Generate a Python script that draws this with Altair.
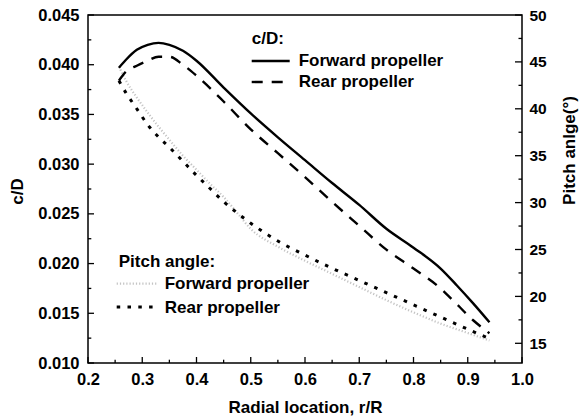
import altair as alt
import pandas as pd

# ---------------- data ----------------
r_cd = [0.257, 0.27, 0.29, 0.31, 0.33, 0.35, 0.375, 0.40, 0.45, 0.50, 0.55,
        0.60, 0.65, 0.70, 0.75, 0.80, 0.85, 0.88, 0.91, 0.94]
forward_cd = [0.0397, 0.0405, 0.0415, 0.0420, 0.0422, 0.0420, 0.0414, 0.0404,
              0.0377, 0.0351, 0.0327, 0.0304, 0.0281, 0.0259, 0.0235, 0.0216,
              0.0195, 0.0178, 0.0160, 0.0141]
rear_cd = [0.0384, 0.0393, 0.0399, 0.0404, 0.0408, 0.0408, 0.0400, 0.0389,
           0.0363, 0.0335, 0.0311, 0.0287, 0.0262, 0.0238, 0.0214, 0.0195,
           0.0175, 0.0159, 0.0143, 0.0130]

r_pitch = [0.257, 0.27, 0.29, 0.31, 0.33, 0.35, 0.375, 0.40, 0.425, 0.45,
           0.475, 0.50, 0.55, 0.60, 0.65, 0.70, 0.75, 0.80, 0.85, 0.90, 0.94]
forward_pitch = [44.5, 43.0, 41.2, 39.6, 38.1, 36.7, 35.0, 33.5, 32.0, 30.6,
                 28.9, 27.2, 25.3, 23.8, 22.4, 21.0, 19.6, 18.3, 17.1, 16.1, 15.3]
rear_pitch = [43.0, 41.7, 40.0, 38.3, 37.0, 35.9, 34.4, 32.9, 31.5, 30.1,
              28.9, 27.8, 25.9, 24.4, 23.0, 21.7, 20.4, 19.1, 17.8, 16.5, 15.5]

x_major = [0.2, 0.3, 0.4, 0.5, 0.6, 0.7, 0.8, 0.9, 1.0]
x_minor = [0.25, 0.35, 0.45, 0.55, 0.65, 0.75, 0.85, 0.95]
cd_major = [0.010, 0.015, 0.020, 0.025, 0.030, 0.035, 0.040, 0.045]
cd_minor = [0.0125, 0.0175, 0.0225, 0.0275, 0.0325, 0.0375, 0.0425]
pitch_major = [15, 20, 25, 30, 35, 40, 45, 50]
pitch_minor = [17.5, 22.5, 27.5, 32.5, 37.5, 42.5, 47.5]

# ---------------- styling ----------------
FONT = "Liberation Sans"
W, H = 434, 348

x_scale = alt.Scale(domain=[0.2, 1.0], nice=False, zero=False)
cd_scale = alt.Scale(domain=[0.010, 0.045], nice=False, zero=False)
pitch_scale = alt.Scale(domain=[12.9, 50], nice=False, zero=False)

x_axis = alt.Axis(values=x_major, format=".1f", title="Radial location, r/R",
                  orient="bottom", ticks=False, tickSize=0, domain=False, grid=False,
                  labelFont=FONT, labelFontSize=16.5, labelFontWeight="bold",
                  labelColor="black", labelPadding=8, labelFlush=False,
                  labelOverlap=False,
                  titleFont=FONT, titleFontSize=17, titleFontWeight="bold",
                  titleColor="black", titleX=W / 2, titleY=49,
                  titleBaseline="alphabetic")
cd_axis = alt.Axis(values=cd_major, format=".3f", title="c/D", orient="left",
                   ticks=False, tickSize=0, domain=False, grid=False,
                   labelFont=FONT, labelFontSize=16.5, labelFontWeight="bold",
                   labelColor="black", labelPadding=9, labelFlush=False,
                   labelOverlap=False,
                   titleFont=FONT, titleFontSize=17, titleFontWeight="bold",
                   titleColor="black", titleX=-71, titleY=176,
                   titleAngle=270, titleBaseline="middle")
pitch_axis = alt.Axis(values=pitch_major, format="d", title="Pitch anlge(°)",
                      orient="right", ticks=False, tickSize=0, domain=False,
                      grid=False,
                      labelFont=FONT, labelFontSize=15.5, labelFontWeight="bold",
                      labelColor="black", labelPadding=7, labelFlush=False,
                      labelOverlap=False,
                      titleFont=FONT, titleFontSize=17, titleFontWeight="bold",
                      titleColor="black", titleX=47, titleY=135,
                      titleAngle=270, titleBaseline="middle")

X = alt.X("r:Q", scale=x_scale, axis=x_axis)

cd_df = pd.DataFrame({"r": r_cd, "forward": forward_cd, "rear": rear_cd})
pitch_df = pd.DataFrame({"r": r_pitch, "forward": forward_pitch, "rear": rear_pitch})

# ---------------- pitch group (right axis) ----------------
fwd_pitch_line = alt.Chart(pitch_df).mark_line(
    color="#c4c4c4", strokeWidth=2.2, strokeDash=[1.2, 2.0], interpolate="monotone"
).encode(x=X, y=alt.Y("forward:Q", scale=pitch_scale, axis=pitch_axis))

rear_pitch_line = alt.Chart(pitch_df).mark_line(
    color="black", strokeWidth=3, strokeDash=[3.5, 7.3], interpolate="monotone"
).encode(x=X, y=alt.Y("rear:Q", scale=pitch_scale, axis=pitch_axis))

pitch_major_ticks = alt.Chart(pd.DataFrame({"v": pitch_major})).mark_rule(
    color="black", strokeWidth=1.3
).encode(y=alt.Y("v:Q", scale=pitch_scale, axis=pitch_axis),
         x=alt.value(W - 7), x2=alt.value(W))
pitch_minor_ticks = alt.Chart(pd.DataFrame({"v": pitch_minor})).mark_rule(
    color="black", strokeWidth=1.3
).encode(y=alt.Y("v:Q", scale=pitch_scale, axis=pitch_axis),
         x=alt.value(W - 3.5), x2=alt.value(W))

pitch_group = alt.layer(fwd_pitch_line, rear_pitch_line,
                        pitch_major_ticks, pitch_minor_ticks)

# ---------------- c/D group (left axis) ----------------
fwd_cd_line = alt.Chart(cd_df).mark_line(
    color="black", strokeWidth=2.4, interpolate="monotone"
).encode(x=X, y=alt.Y("forward:Q", scale=cd_scale, axis=cd_axis))

rear_cd_line = alt.Chart(cd_df).mark_line(
    color="black", strokeWidth=2.4, strokeDash=[11, 9], interpolate="monotone"
).encode(x=X, y=alt.Y("rear:Q", scale=cd_scale, axis=cd_axis))

cd_major_ticks = alt.Chart(pd.DataFrame({"v": cd_major})).mark_rule(
    color="black", strokeWidth=1.3
).encode(y=alt.Y("v:Q", scale=cd_scale, axis=cd_axis),
         x=alt.value(0), x2=alt.value(6))
cd_minor_ticks = alt.Chart(pd.DataFrame({"v": cd_minor})).mark_rule(
    color="black", strokeWidth=1.3
).encode(y=alt.Y("v:Q", scale=cd_scale, axis=cd_axis),
         x=alt.value(0), x2=alt.value(3.3))

x_major_ticks = alt.Chart(pd.DataFrame({"r": x_major})).mark_rule(
    color="black", strokeWidth=1.3
).encode(x=X, y=alt.value(H - 6), y2=alt.value(H))
x_minor_ticks = alt.Chart(pd.DataFrame({"r": x_minor})).mark_rule(
    color="black", strokeWidth=1.3
).encode(x=X, y=alt.value(H - 3.3), y2=alt.value(H))

# ---------------- legends ----------------
OX, OY = 88.3, 14.7
one = pd.DataFrame({"k": [0]})


def legend_text(label, x, y):
    return alt.Chart(pd.DataFrame({"t": [label]})).mark_text(
        font=FONT, fontSize=17, fontWeight="bold", color="black",
        align="left", baseline="alphabetic"
    ).encode(text="t:N", x=alt.value(x - OX), y=alt.value(y - OY))


def legend_line(x1, x2, y, **style):
    return alt.Chart(one).mark_rule(**style).encode(
        x=alt.value(x1 - OX), x2=alt.value(x2 - OX), y=alt.value(y - OY))


legend_layers = [
    legend_text("c/D:", 252, 44),
    legend_line(252, 290, 60.7, color="black", strokeWidth=2.4),
    legend_text("Forward propeller", 299, 66),
    legend_line(252, 290, 81.7, color="black", strokeWidth=2.4, strokeDash=[11, 9]),
    legend_text("Rear propeller", 299, 87),
    legend_text("Pitch angle:", 119, 267),
    legend_line(117, 157, 283.3, color="#c4c4c4", strokeWidth=2.2, strokeDash=[1.2, 2.0]),
    legend_text("Forward propeller", 165, 289),
    legend_line(117, 157, 306.7, color="black", strokeWidth=3, strokeDash=[3.5, 7.3]),
    legend_text("Rear propeller", 165, 313),
]

cd_group = alt.layer(fwd_cd_line, rear_cd_line, cd_major_ticks, cd_minor_ticks,
                     x_major_ticks, x_minor_ticks, *legend_layers)

chart = alt.layer(pitch_group, cd_group).resolve_scale(y="independent").properties(
    width=W, height=H,
    autosize=alt.AutoSizeParams(type="none"),
    padding={"left": 88, "top": 15, "right": 57, "bottom": 55},
    background="white",
).configure_view(stroke="black", strokeWidth=1.5)

chart.save("out.html", embed_options={"renderer": "svg", "actions": False})
